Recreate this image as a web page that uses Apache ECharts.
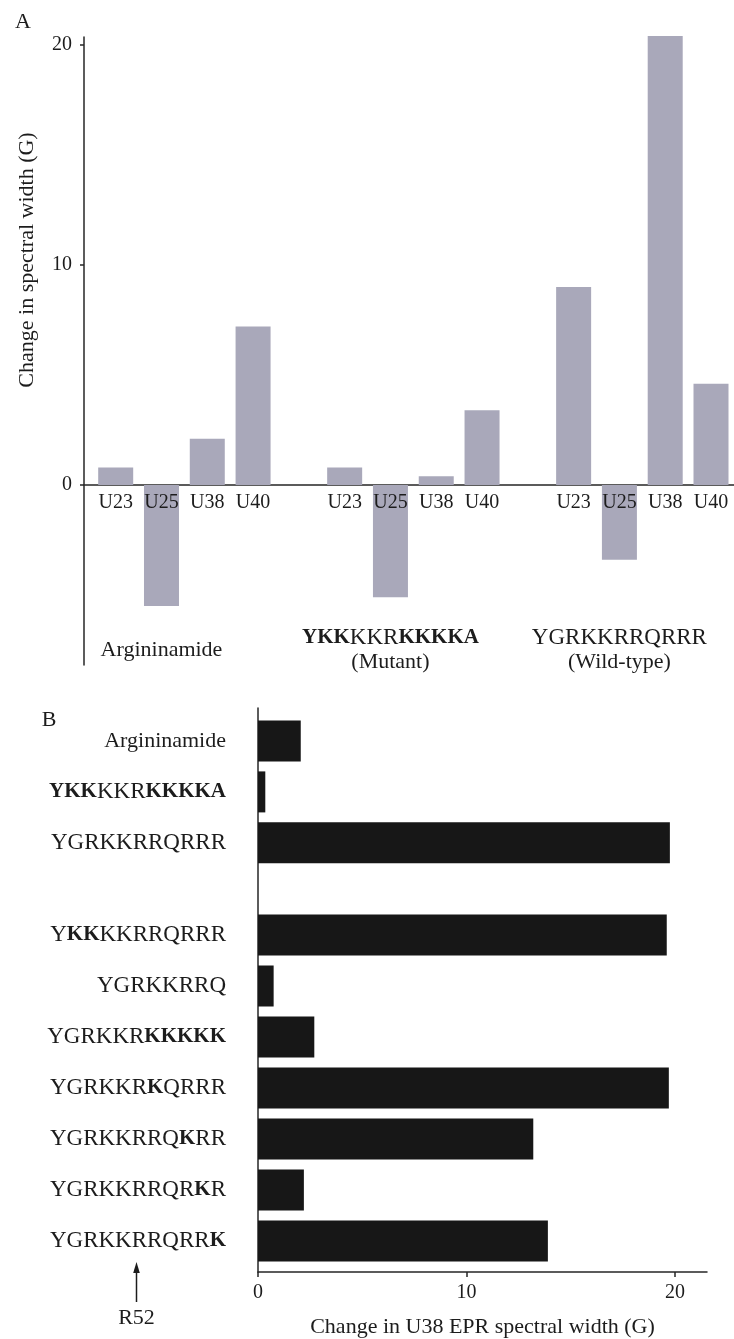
<!DOCTYPE html>
<html><head><meta charset="utf-8">
<script src="https://cdn.jsdelivr.net/npm/echarts@6/dist/echarts.min.js"></script>
<style>html,body{margin:0;padding:0;background:#fff}#c{width:734px;height:1339px}</style>
</head><body><div id="c"></div>
<script>
// ---------- Panel A data ----------
const uracilLabels = ['U23', 'U25', 'U38', 'U40'];
const groupNamesA = ['Argininamide', 'YKKKKRKKKKA', 'YGRKKRRQRRR'];
const groupSubA = ['', '(Mutant)', '(Wild-type)'];
const groupMaskA = ['', 'BBB...BBBBB', ''];
const argininamideA = [0.8, -5.5, 2.1, 7.2];
const mutantA = [0.8, -5.1, 0.4, 3.4];
const wildTypeA = [9.0, -3.4, 20.4, 4.6];
const yTicksA = [0, 10, 20];

// ---------- Panel B data ----------
const peptidesB1 = ['Argininamide', 'YKKKKRKKKKA', 'YGRKKRRQRRR'];
const masksB1 = ['', 'BBB...BBBBB', ''];
const valuesB1 = [2.05, 0.35, 19.75];
const peptidesB2 = ['YKKKKRRQRRR', 'YGRKKRRQ', 'YGRKKRKKKKK', 'YGRKKRKQRRR', 'YGRKKRRQKRR', 'YGRKKRRQRKR', 'YGRKKRRQRRK'];
const masksB2 = ['.BB........', '........', '......BBBBB', '......B....', '........B..', '.........B.', '..........B'];
const valuesB2 = [19.6, 0.75, 2.7, 19.7, 13.2, 2.2, 13.9];
const xTicksB = [0, 10, 20];

const FONT = '"Liberation Serif", "Times New Roman", serif';
const INK = '#1c1c1c';
const AXIS = '#262626';

function richify(text, mask) {
  let out = '', i = 0;
  while (i < text.length) {
    const bold = !!mask && mask[i] === 'B';
    let j = i;
    while (j < text.length && ((!!mask && mask[j] === 'B') === bold)) j++;
    out += '{' + (bold ? 'b' : 'n') + '|' + text.slice(i, j) + '}';
    i = j;
  }
  return out;
}
function richifyLabel(text, mask) {
  if (/[a-z]/.test(text)) return '{w|' + text + '}';
  return richify(text, mask);
}

const blank = null;
const catsA = [...uracilLabels, '', ...uracilLabels, '', ...uracilLabels];
const dataA = [...argininamideA, blank, ...mutantA, blank, ...wildTypeA];
const groupSlotsA = catsA.map(() => '');
groupNamesA.forEach((g, k) => {
  let s = richifyLabel(g, groupMaskA[k]);
  if (groupSubA[k]) s += '\n{w|' + groupSubA[k] + '}';
  groupSlotsA[k * 5 + 1] = s;
});

const minA = -8.18, maxA = 20.36;
const maxB = 21.53;

function richStyles(lh, align) {
  const base = { fontFamily: FONT, color: INK };
  if (lh) base.lineHeight = lh;
  if (align) base.align = align;
  return {
    w: Object.assign({}, base, { fontSize: 22 }),
    n: Object.assign({}, base, { fontSize: 23 }),
    b: Object.assign({}, base, { fontSize: 21, fontWeight: 'bold' })
  };
}

// Panel A: frame grid spans the full value range; the bar grid ends at the zero line
// (its y axis runs from 0 to max and negative bars extend below it).
const topA = 37, heightA = 628;
const zeroFracA = maxA / (maxA - minA);

const chart = echarts.init(document.getElementById('c'), null, { renderer: 'canvas' });
const option = {
  animation: false,
  backgroundColor: '#ffffff',
  textStyle: { fontFamily: FONT, color: INK },
  grid: [
    { left: 84, top: topA, width: 650, height: heightA },                    // 0: A frame
    { left: 92.8, top: topA, width: 641.1, height: heightA * zeroFracA },      // 1: A bars (down to zero)
    { left: 258, top: 708, width: 449, height: 564 },                          // 2: B frame
    { left: 258, top: 715.5, width: 449, height: 152.8 },                      // 3: B bars upper
    { left: 258, top: 909.5, width: 449, height: 357 }                         // 4: B bars lower
  ],
  xAxis: [
    { gridIndex: 0, type: 'category', data: [''], axisLine: { show: true, onZero: true, lineStyle: { color: AXIS, width: 1.5 } },
      axisTick: { show: false }, axisLabel: { show: false }, splitLine: { show: false } },
    { gridIndex: 1, type: 'category', data: catsA, position: 'bottom', z: 10,
      axisLine: { show: false, onZero: false }, axisTick: { show: false },
      axisLabel: { interval: 0, margin: 8, fontFamily: FONT, fontSize: 20, color: INK } },
    { gridIndex: 1, type: 'category', data: groupSlotsA, position: 'bottom', offset: 165,
      axisLine: { show: false, onZero: false }, axisTick: { show: false },
      axisLabel: { interval: 0, margin: 0, verticalAlign: 'middle', rich: richStyles(24, 'center'), fontSize: 22 } },
    { gridIndex: 2, type: 'value', min: 0, max: maxB, position: 'bottom',
      axisLine: { show: true, onZero: false, lineStyle: { color: AXIS, width: 1.5 } },
      axisTick: { show: true, length: 5, customValues: xTicksB, lineStyle: { color: AXIS, width: 1.5 } },
      axisLabel: { customValues: xTicksB, margin: 11, fontFamily: FONT, fontSize: 20, color: INK },
      splitLine: { show: false },
      name: 'Change in U38 EPR spectral width (G)', nameLocation: 'middle', nameGap: 44,
      nameTextStyle: { fontFamily: FONT, fontSize: 22, color: INK } },
    { gridIndex: 3, type: 'value', min: 0, max: maxB, show: false },
    { gridIndex: 4, type: 'value', min: 0, max: maxB, show: false }
  ],
  yAxis: [
    { gridIndex: 0, type: 'value', min: minA, max: maxA,
      axisLine: { show: true, lineStyle: { color: AXIS, width: 1.5 } },
      axisTick: { show: true, length: 4, customValues: yTicksA, lineStyle: { color: AXIS, width: 1.5 } },
      axisLabel: { customValues: yTicksA, margin: 12, fontFamily: FONT, fontSize: 20, color: INK },
      splitLine: { show: false } },
    { gridIndex: 1, type: 'value', min: 0, max: maxA, show: false },
    { gridIndex: 2, type: 'category', data: [''], axisLine: { show: true, onZero: false, lineStyle: { color: AXIS, width: 1.5 } },
      axisTick: { show: false }, axisLabel: { show: false } },
    { gridIndex: 3, type: 'category', data: peptidesB1, inverse: true, axisLine: { show: false }, axisTick: { show: false },
      axisLabel: { margin: 32, fontSize: 22, rich: richStyles(0, ''),
        formatter: (v, i) => richifyLabel(v, masksB1[i]) } },
    { gridIndex: 4, type: 'category', data: peptidesB2, inverse: true, axisLine: { show: false }, axisTick: { show: false },
      axisLabel: { margin: 32, fontSize: 22, rich: richStyles(0, ''),
        formatter: (v, i) => richifyLabel(v, masksB2[i]) } }
  ],
  series: [
    { type: 'bar', xAxisIndex: 1, yAxisIndex: 1, data: dataA, barWidth: 35, clip: false,
      itemStyle: { color: '#a9a8ba' } },
    { type: 'bar', xAxisIndex: 4, yAxisIndex: 3, data: valuesB1, barWidth: 41, clip: false,
      itemStyle: { color: '#171717' } },
    { type: 'bar', xAxisIndex: 5, yAxisIndex: 4, data: valuesB2, barWidth: 41, clip: false,
      itemStyle: { color: '#171717' } }
  ],
  graphic: [
    { type: 'text', x: 23, y: 22, style: { text: 'A', font: '22px ' + FONT, fill: INK, textAlign: 'center', textVerticalAlign: 'middle' } },
    { type: 'text', x: 49, y: 720, style: { text: 'B', font: '22px ' + FONT, fill: INK, textAlign: 'center', textVerticalAlign: 'middle' } },
    { type: 'text', x: 27, y: 260, rotation: Math.PI / 2,
      style: { text: 'Change in spectral width (G)', font: '22px ' + FONT, fill: INK, textAlign: 'center', textVerticalAlign: 'middle' } },
    { type: 'line', shape: { x1: 136.5, y1: 1302, x2: 136.5, y2: 1270 }, style: { stroke: INK, lineWidth: 1.5 } },
    { type: 'polygon', shape: { points: [[136.5, 1262], [133.2, 1273], [139.8, 1273]] }, style: { fill: INK } },
    { type: 'text', x: 136.5, y: 1318, style: { text: 'R52', font: '22px ' + FONT, fill: INK, textAlign: 'center', textVerticalAlign: 'middle' } }
  ]
};
chart.setOption(option);
</script>
</body></html>
